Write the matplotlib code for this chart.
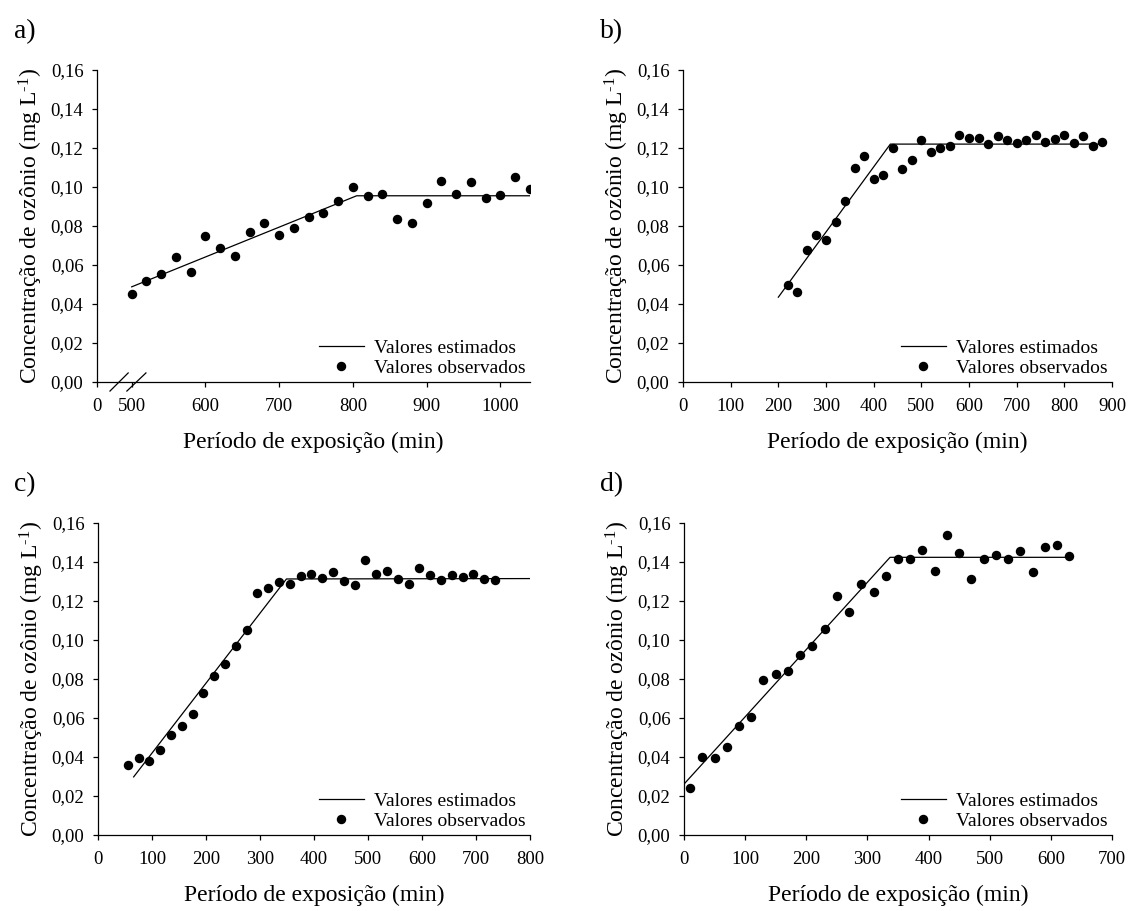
import numpy as np
import matplotlib
matplotlib.use("Agg")
import matplotlib.pyplot as plt
from matplotlib.ticker import FuncFormatter, FixedLocator
from matplotlib.lines import Line2D

plt.rcParams['font.family'] = ['Liberation Serif', 'DejaVu Serif']
plt.rcParams['mathtext.fontset'] = 'custom'
plt.rcParams['mathtext.rm'] = 'Liberation Serif'
plt.rcParams['mathtext.it'] = 'Liberation Serif:italic'

# ---------------- data ----------------
# panel a
xa = [500, 520, 540, 560, 580, 600, 620, 640, 660, 680, 700, 720, 740, 760,
      780, 800, 820, 840, 860, 880, 900, 920, 940, 960, 980, 1000, 1020, 1040]
ya = [0.0449, 0.0517, 0.0554, 0.0640, 0.0565, 0.0747, 0.0687, 0.0647, 0.0771,
      0.0815, 0.0752, 0.0790, 0.0844, 0.0865, 0.0928, 0.0998, 0.0955, 0.0966,
      0.0838, 0.0817, 0.0919, 0.1029, 0.0966, 0.1027, 0.0945, 0.0959, 0.1052,
      0.0988]
fit_xa = [500, 805, 1040]
fit_ya = [0.0488, 0.0955, 0.0955]

# panel b
xb = [220, 240, 260, 280, 300, 320, 340, 360, 380, 400, 420, 440, 460, 480,
      500, 520, 540, 560, 580, 600, 620, 640, 660, 680, 700, 720, 740, 760,
      780, 800, 820, 840, 860, 880]
yb = [0.0500, 0.0459, 0.0679, 0.0754, 0.0730, 0.0819, 0.0926, 0.1095, 0.1158,
      0.1041, 0.1059, 0.1199, 0.1090, 0.1136, 0.1242, 0.1177, 0.1199, 0.1208,
      0.1267, 0.1252, 0.1249, 0.1220, 0.1264, 0.1242, 0.1228, 0.1243, 0.1266,
      0.1233, 0.1247, 0.1266, 0.1225, 0.1264, 0.1208, 0.1230]
fit_xb = [200, 435, 880]
fit_yb = [0.0435, 0.1220, 0.1220]

# panel c
xc = [55, 75, 95, 115, 135, 155, 175, 195, 215, 235, 255, 275, 295, 315, 335,
      355, 375, 395, 415, 435, 455, 475, 495, 515, 535, 555, 575, 595, 615,
      635, 655, 675, 695, 715, 735]
yc = [0.0359, 0.0394, 0.0382, 0.0436, 0.0514, 0.0559, 0.0623, 0.0729, 0.0813,
      0.0877, 0.0967, 0.1053, 0.1240, 0.1265, 0.1297, 0.1285, 0.1327, 0.1336,
      0.1319, 0.1349, 0.1304, 0.1282, 0.1411, 0.1336, 0.1352, 0.1315, 0.1287,
      0.1368, 0.1332, 0.1309, 0.1334, 0.1325, 0.1337, 0.1315, 0.1309]
fit_xc = [66, 349, 800]
fit_yc = [0.0298, 0.1313, 0.1315]

# panel d
xd = [10, 30, 50, 70, 90, 110, 130, 150, 170, 190, 210, 230, 250, 270, 290,
      310, 330, 350, 370, 390, 410, 430, 450, 470, 490, 510, 530, 550, 570,
      590, 610, 630]
yd = [0.0239, 0.0400, 0.0395, 0.0449, 0.0558, 0.0603, 0.0797, 0.0827, 0.0840,
      0.0921, 0.0968, 0.1054, 0.1224, 0.1143, 0.1287, 0.1244, 0.1326, 0.1413,
      0.1415, 0.1461, 0.1356, 0.1541, 0.1444, 0.1314, 0.1413, 0.1437, 0.1415,
      0.1457, 0.1348, 0.1477, 0.1489, 0.1432]
fit_xd = [0, 337, 630]
fit_yd = [0.0261, 0.1424, 0.1424]

yticks = [0.00, 0.02, 0.04, 0.06, 0.08, 0.10, 0.12, 0.14, 0.16]
xticks_a = [0, 500, 600, 700, 800, 900, 1000]
xticks_b = [0, 100, 200, 300, 400, 500, 600, 700, 800, 900]
xticks_c = [0, 100, 200, 300, 400, 500, 600, 700, 800]
xticks_d = [0, 100, 200, 300, 400, 500, 600, 700]
panel_labels = ['a)', 'b)', 'c)', 'd)']
xlabel = 'Período de exposição (min)'
ylabel = 'Concentração de ozônio (mg L$^{\\text{-}\\mathregular{1}}$)'
leg_labels = ['Valores estimados', 'Valores observados']

# ---------------- figure ----------------
W, H = 1128, 911
fig = plt.figure(figsize=(W / 100, H / 100), dpi=100)


def rect(l, r, t, b):
    return [l / W, 1 - b / H, (r - l) / W, (b - t) / H]


boxes = [rect(97, 530, 70, 382), rect(683, 1112, 70, 382),
         rect(98, 530, 523, 835), rect(684, 1112, 523, 835)]
letter_pos = [(14, 32), (600, 32), (14, 485), (600, 485)]

datasets = [(xa, ya, fit_xa, fit_ya, xticks_a, (0, 1040)),
            (xb, yb, fit_xb, fit_yb, xticks_b, (0, 900)),
            (xc, yc, fit_xc, fit_yc, xticks_c, (0, 800)),
            (xd, yd, fit_xd, fit_yd, xticks_d, (0, 700))]

GAP = 47.0


def fwd(x):
    x = np.asarray(x, dtype=float)
    return np.where(x < 500, x * GAP / 500.0, x - 500 + GAP)


def inv(u):
    u = np.asarray(u, dtype=float)
    return np.where(u < GAP, u * 500.0 / GAP, u + 500 - GAP)


comma = FuncFormatter(lambda v, p: f"{v:.2f}".replace('.', ','))

for i, (box, (x, y, fx, fy, xt, xl)) in enumerate(zip(boxes, datasets)):
    ax = fig.add_axes(box)
    if i == 0:
        ax.set_xscale('function', functions=(fwd, inv))
    ax.plot(fx, fy, color='black', lw=0.9, label=leg_labels[0])
    ax.plot(x, y, 'o', color='black', ms=5.8, label=leg_labels[1])
    ax.set_xlim(*xl)
    ax.set_ylim(0, 0.16)
    ax.xaxis.set_major_locator(FixedLocator(xt))
    ax.xaxis.set_minor_locator(FixedLocator([]))
    ax.set_yticks(yticks)
    ax.yaxis.set_major_formatter(comma)
    ax.xaxis.set_major_formatter(FuncFormatter(lambda v, p: f"{int(round(v))}"))
    for s in ('top', 'right'):
        ax.spines[s].set_visible(False)
    for s in ('left', 'bottom'):
        ax.spines[s].set_linewidth(0.9)
    ax.tick_params(direction='out', length=3.8, width=0.9, labelsize=13.5,
                   colors='black')
    ax.tick_params(axis='x', pad=8)
    ax.tick_params(axis='y', pad=6)
    ax.set_xlabel(xlabel, fontsize=17, labelpad=12)
    ax.set_ylabel(ylabel, fontsize=17, labelpad=4)
    ax.legend(loc='lower right', frameon=False, fontsize=14,
              handlelength=2.3, handletextpad=0.5, labelspacing=0.12,
              borderpad=0.0, borderaxespad=0.25, markerscale=1.0,
              numpoints=1)
    fig.text(letter_pos[i][0] / W, 1 - letter_pos[i][1] / H, panel_labels[i],
             fontsize=20, va='center', ha='left')
    if i == 0:
        for (x0, x1) in [(0.030, 0.072), (0.069, 0.113)]:
            ax.add_line(Line2D([x0, x1], [-0.029, 0.029], transform=ax.transAxes,
                               color='black', lw=0.9, clip_on=False))

fig.savefig('out.png', dpi=100)
